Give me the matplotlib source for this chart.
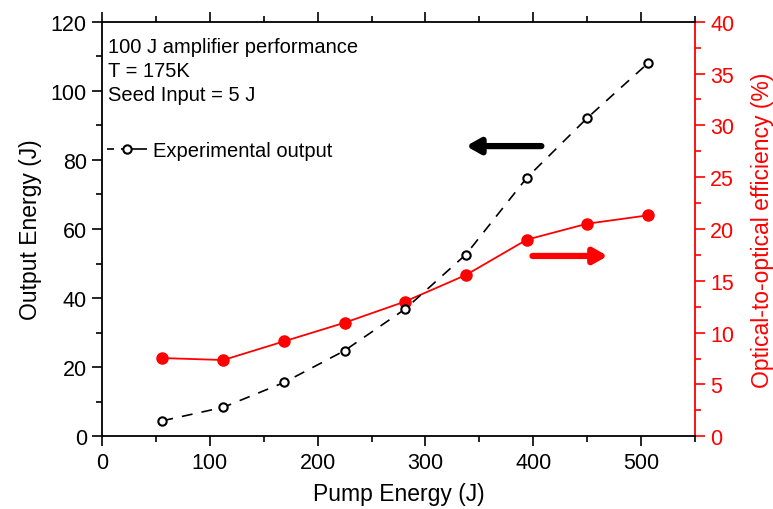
import numpy as np
import matplotlib.pyplot as plt
from matplotlib.ticker import MultipleLocator

plt.rcParams['font.family'] = ['Liberation Sans', 'DejaVu Sans']

# pump energy (J)
pump = [56, 112.5, 169, 225, 281, 337.5, 394, 450, 506.5]
# output energy (J)
output = [4.5, 8.4, 15.6, 24.8, 36.8, 52.6, 74.8, 92.1, 108.0]
# optical-to-optical efficiency (%)
efficiency = [7.55, 7.36, 9.17, 10.96, 13.0, 15.56, 18.97, 20.51, 21.32]

info_lines = ['100 J amplifier performance', 'T = 175K', 'Seed Input = 5 J']

fig = plt.figure(figsize=(7.73, 5.10), dpi=100)
ax = fig.add_axes([0.132, 0.1425, 0.767, 0.813])
ax2 = ax.twinx()

ax.plot(pump, output, color='black', linestyle=(0, (6.5, 5.5)), linewidth=1.2,
        marker='o', markersize=6, markerfacecolor='white',
        markeredgecolor='black', markeredgewidth=1.5,
        label='Experimental output', zorder=3)
ax2.plot(pump, efficiency, color='red', linewidth=1.3, marker='o',
         markersize=8, markerfacecolor='red', markeredgecolor='red')

ax.set_xlim(0, 550)
ax.set_ylim(0, 120)
ax2.set_ylim(0, 40)

ax.xaxis.set_major_locator(MultipleLocator(100))
ax.xaxis.set_minor_locator(MultipleLocator(50))
ax.yaxis.set_major_locator(MultipleLocator(20))
ax.yaxis.set_minor_locator(MultipleLocator(10))
ax2.yaxis.set_major_locator(MultipleLocator(5))
ax2.yaxis.set_minor_locator(MultipleLocator(2.5))

ax.tick_params(which='both', direction='out', top=True, labelsize=15.5,
               width=1.2, colors='black')
ax.tick_params(which='major', length=7, pad=4)
ax.tick_params(which='minor', length=4.5)
ax2.tick_params(which='both', direction='out', labelsize=15.5, width=1.2,
                colors='red')
ax2.tick_params(which='major', length=7, pad=4)
ax2.tick_params(which='minor', length=4.5)

for s in ['left', 'bottom', 'top']:
    ax.spines[s].set_linewidth(1.3)
ax2.spines['right'].set_color('red')
ax2.spines['right'].set_linewidth(1.3)
ax2.spines['left'].set_visible(False)
ax2.spines['top'].set_visible(False)
ax2.spines['bottom'].set_visible(False)
ax.spines['right'].set_visible(False)

ax.set_xlabel('Pump Energy (J)', fontsize=16.5, labelpad=7)
ax.set_ylabel('Output Energy (J)', fontsize=16.5, labelpad=6)
ax2.set_ylabel('Optical-to-optical efficiency (%)', fontsize=16.5,
               color='red', labelpad=12)

for i, line in enumerate(info_lines):
    ax.text(0.01, 0.94 - i * 0.058, line, transform=ax.transAxes,
            fontsize=14.5, va='center', ha='left')

leg = ax.legend(loc='center left', bbox_to_anchor=(-0.022, 0.69),
                frameon=False, fontsize=14.5, handlelength=2.0,
                handletextpad=0.3)
for l in leg.get_lines():
    l.set_dashes((4.2, 4.2, 16, 4.2))

ax.annotate('', xy=(0.614, 0.700), xytext=(0.741, 0.700),
            xycoords='axes fraction',
            arrowprops=dict(arrowstyle='-|>,head_length=0.8,head_width=0.45',
                            color='black', lw=4.5, shrinkA=0, shrinkB=0))
ax.annotate('', xy=(0.853, 0.435), xytext=(0.726, 0.435),
            xycoords='axes fraction',
            arrowprops=dict(arrowstyle='-|>,head_length=0.8,head_width=0.45',
                            color='red', lw=4.5, shrinkA=0, shrinkB=0))

ax.set_zorder(ax2.get_zorder() + 1)
ax.patch.set_visible(False)

fig.savefig('out.png', dpi=100)
